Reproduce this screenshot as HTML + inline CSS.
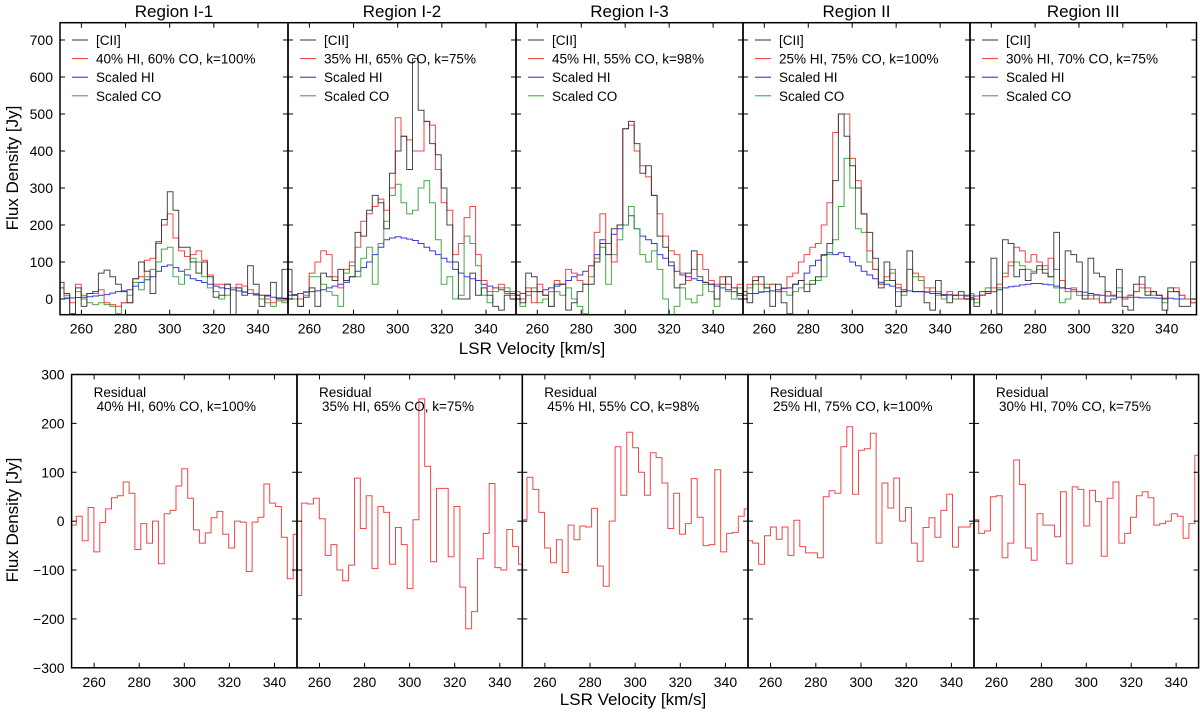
<!DOCTYPE html>
<html><head><meta charset="utf-8"><style>
body{margin:0;background:#fff;}
svg text{font-family:"Liberation Sans",sans-serif;fill:#000;}
</style></head><body>
<svg id="fig" width="1200" height="709" viewBox="0 0 1200 709" xmlns="http://www.w3.org/2000/svg"></svg>
<script>
const regionTitles=["Region I-1","Region I-2","Region I-3","Region II","Region III"];
const modelLabels=["40% HI, 60% CO, k=100%","35% HI, 65% CO, k=75%","45% HI, 55% CO, k=98%","25% HI, 75% CO, k=100%","30% HI, 70% CO, k=75%"];
const binStart=249.5, binWidth=2.6;
const topTicksY=[0,100,200,300,400,500,600,700];
const botTicksY=[-300,-200,-100,0,100,200,300];
const ticksX=[260,280,300,320,340];
const ciiData=[
[45,15,-40,30,-20,15,20,70,78,60,40,20,-10,55,100,75,15,155,215,290,240,140,140,100,70,100,60,5,10,40,-50,30,10,90,40,-20,10,45,0,80],
[80,10,-20,5,30,-20,70,60,50,80,50,60,180,170,240,280,260,190,340,400,440,350,650,510,480,420,390,300,200,100,0,0,70,10,30,10,-20,-30,10,0],
[10,-10,70,60,20,10,-20,40,40,-30,-10,20,40,40,100,150,120,190,200,460,480,420,340,360,280,170,140,100,30,40,70,130,60,45,40,0,40,60,30,10],
[20,-10,50,60,30,-20,40,-10,-40,40,50,20,40,60,120,150,320,500,440,360,300,230,180,110,30,100,50,-20,20,130,20,20,-10,-30,50,10,-10,10,20,0],
[0,-20,20,20,110,-40,160,150,60,80,50,70,90,70,60,180,30,130,120,100,0,110,70,60,-10,0,80,-20,-30,40,60,10,20,10,-30,30,20,-20,-20,100]];
const modelData=[
[30,10,-10,40,10,15,15,25,-10,-15,-20,-10,-10,55,60,105,110,150,200,230,165,130,115,120,130,105,65,40,40,40,30,40,35,25,15,10,0,-10,0,-5],
[20,10,0,20,70,100,130,120,60,30,80,100,140,210,230,250,270,240,300,490,440,430,400,400,480,470,350,260,240,120,150,220,250,120,50,20,30,40,15,10],
[20,0,30,-10,40,10,20,50,40,80,70,50,40,90,180,230,150,100,200,460,470,400,360,330,280,230,170,130,120,70,50,80,120,80,50,40,60,40,20,40],
[10,40,60,40,30,40,20,30,60,70,100,120,140,150,200,260,450,500,500,380,320,230,130,80,40,60,80,40,20,80,70,60,20,30,20,10,20,10,0,10],
[10,0,10,20,30,40,60,100,140,130,100,120,100,80,110,80,50,20,30,20,10,0,10,-10,20,10,20,0,10,20,40,30,20,10,0,20,30,10,0,-10]];
const hiData=[
[0,1,3,4,5,6,8,10,12,16,20,22,25,35,45,52,60,75,88,92,85,75,65,55,50,45,40,35,30,28,25,22,18,15,12,10,8,5,3,2],
[10,12,15,18,20,22,25,30,35,40,45,60,75,85,100,120,140,160,165,168,165,162,158,150,140,130,120,110,100,80,70,60,55,50,40,35,30,25,20,15],
[10,15,20,20,20,25,30,35,40,50,60,65,75,90,120,160,150,175,190,200,225,190,170,160,150,120,110,90,75,65,60,55,50,45,40,35,30,25,20,15],
[10,15,15,18,20,22,25,28,30,40,50,70,90,105,118,125,120,125,115,100,90,75,65,55,45,40,35,30,25,22,20,20,18,15,15,12,12,10,10,8],
[5,8,10,15,20,25,30,33,35,38,40,42,42,40,38,35,30,28,25,20,18,15,12,10,8,8,5,5,5,5,3,3,3,2,2,2,0,0,0,0]];
const coData=[
[30,5,-40,20,0,-10,-15,-10,-15,-20,-40,-10,10,45,25,60,80,100,135,140,60,40,80,110,100,60,30,20,0,10,25,30,20,15,10,0,-10,-20,-5,-10],
[20,0,-20,10,60,60,40,20,10,-20,70,90,60,110,140,40,150,210,280,310,260,230,240,300,320,260,160,40,60,0,10,170,150,90,10,-10,20,30,30,20],
[10,-20,10,30,-10,0,-20,20,10,30,0,-20,-40,60,110,140,40,120,160,200,250,190,120,100,130,80,0,-60,-20,30,0,-10,10,40,20,-20,60,20,0,30],
[10,30,40,20,40,40,20,20,10,20,30,40,50,50,60,120,160,250,380,300,190,180,100,80,40,50,70,20,10,80,60,50,30,20,10,0,10,0,0,10],
[15,-10,10,30,20,30,70,90,100,90,80,75,80,90,60,30,-10,0,20,10,0,10,0,-10,20,10,30,0,10,20,30,20,10,10,-10,20,20,10,0,-10]];
const residualData=[
[-8,10,-40,28,-63,-3,25,48,52,80,57,-58,-5,-45,0,-87,15,22,72,107,47,-18,-45,-24,7,20,-27,-55,0,-2,-103,-2,8,76,37,30,-33,-118,-27],
[-152,37,35,47,5,-70,-48,-100,-122,-90,88,-15,52,-97,30,18,-88,-13,-48,-138,3,250,112,-83,67,67,-73,30,-135,-220,-185,-77,-25,77,-95,-100,-17,-52,-88],
[3,90,65,18,-55,-85,-38,-105,-8,-38,-10,-12,26,-92,-133,0,152,53,182,150,100,53,140,130,78,-15,57,-27,-5,87,8,-50,-48,105,-63,-25,-23,10,25],
[-40,-45,-88,-30,-12,-37,-12,-70,2,-52,-65,-65,-75,50,62,57,152,193,55,145,148,180,-45,78,27,88,0,28,-45,-82,-13,7,-33,22,55,-53,-12,-12,-5],
[3,-25,-20,50,52,-75,-45,125,75,-55,-80,15,-8,-8,-32,60,-87,70,65,-10,63,40,-72,47,80,-45,-25,8,52,60,48,-8,-5,0,15,10,-35,-5,135]];

const NS="http://www.w3.org/2000/svg";
const svg=document.getElementById('fig');
function mk(tag,attrs,parent){const e=document.createElementNS(NS,tag);for(const k in attrs)e.setAttribute(k,attrs[k]);(parent||svg).appendChild(e);return e;}
function txt(s,attrs,parent){const e=mk('text',attrs,parent);e.textContent=s;return e;}

const topCfg={y0:22.7,y1:314.7,v0:-42.4,v1:746.7,xl:[60,288,516,743,970,1196.5],k0:250.3,k1:353.6};
const botCfg={y0:374.5,y1:667.8,v0:-300,v1:300,xl:[71.6,297,522.3,748,974,1198.6],k0:250,k1:350};

function stepPath(vals,xf,yf){let d='';for(let i=0;i<vals.length;i++){const xa=xf(binStart+i*binWidth),xb=xf(binStart+(i+1)*binWidth),y=yf(vals[i]);d+=(i==0?'M':'L')+xa.toFixed(1)+','+y.toFixed(1)+'L'+xb.toFixed(1)+','+y.toFixed(1);}return d;}

function panel(cfg,i,isTop){
  const L=cfg.xl[i],R=cfg.xl[i+1];
  const xf=v=>L+(v-cfg.k0)/(cfg.k1-cfg.k0)*(R-L);
  const yf=v=>cfg.y1-(v-cfg.v0)/(cfg.v1-cfg.v0)*(cfg.y1-cfg.y0);
  const g=mk('g',{});
  
  
  const cid=(isTop?'ct':'cb')+i;
  const cp=mk('clipPath',{id:cid},g);mk('rect',{x:L,y:cfg.y0,width:R-L,height:cfg.y1-cfg.y0},cp);
  const lines=isTop?[[hiData[i],'#2222dd','hi-line'],[coData[i],'#33a033','co-line'],[modelData[i],'#ee3333','model-line'],[ciiData[i],'#333333','cii-line']]:[[residualData[i],'#ee3333','residual-line']];
  for(const [vals,col,nm] of lines){
    const p=mk('path',{d:stepPath(vals,xf,yf),fill:'none',stroke:col,'stroke-width':1,'clip-path':'url(#'+cid+')',opacity:0.9},g);
    
    
  }
  const ty=isTop?topTicksY:botTicksY;
  for(const t of ty){const y=yf(t);mk('line',{x1:L,x2:L+5,y1:y,y2:y,stroke:'#000'},g);mk('line',{x1:R-5,x2:R,y1:y,y2:y,stroke:'#000'},g);}
  for(const t of ticksX){const x=xf(t);mk('line',{x1:x,x2:x,y1:cfg.y1,y2:cfg.y1-5,stroke:'#000'},g);mk('line',{x1:x,x2:x,y1:cfg.y0,y2:cfg.y0+5,stroke:'#000'},g);
    const tl=txt(String(t),{x:x,y:cfg.y1+19,'font-size':14,'text-anchor':'middle'},g);
    
    }
  if(i==0){for(const t of ty){const tl=txt(String(t).replace('-','\u2212'),{x:L-7,y:yf(t)+5,'font-size':14,'text-anchor':'end'},g);
    
    }}
  const fr=mk('rect',{x:L,y:cfg.y0,width:R-L,height:cfg.y1-cfg.y0,fill:'none',stroke:'#000','stroke-width':1.5},g);
  
  
  if(isTop){
    const t=txt(regionTitles[i],{x:(L+R)/2,y:17,'font-size':17,'text-anchor':'middle'},g);
    
    
    const lg=mk('g',{},g);
    
    
    const items=[['[CII]','#333333'],[modelLabels[i],'#ee3333'],['Scaled HI','#2222dd'],['Scaled CO','#33a033']];
    items.forEach((it,j)=>{const y=40+j*18.6;
      mk('line',{x1:L+12,x2:L+28,y1:y,y2:y,stroke:it[1]},lg);
      const e=txt(it[0],{x:L+36,y:y+5,'font-size':13.5},lg);
      
      });
  } else {
    const a=txt('Residual',{x:L+22,y:397,'font-size':13.5},g);
    
    
    const b=txt(modelLabels[i],{x:L+25,y:411,'font-size':13.5},g);
    
    
  }
}
for(let i=0;i<5;i++){panel(topCfg,i,true);panel(botCfg,i,false);}
let e;
e=txt('Flux Density [Jy]',{x:0,y:0,'font-size':17,'text-anchor':'middle',transform:'translate(18,168) rotate(-90)'});


e=txt('Flux Density [Jy]',{x:0,y:0,'font-size':17,'text-anchor':'middle',transform:'translate(18,520) rotate(-90)'});


e=txt('LSR Velocity [km/s]',{x:532,y:354,'font-size':17,'text-anchor':'middle'});


e=txt('LSR Velocity [km/s]',{x:633,y:705,'font-size':17,'text-anchor':'middle'});


</script>
</body></html>
